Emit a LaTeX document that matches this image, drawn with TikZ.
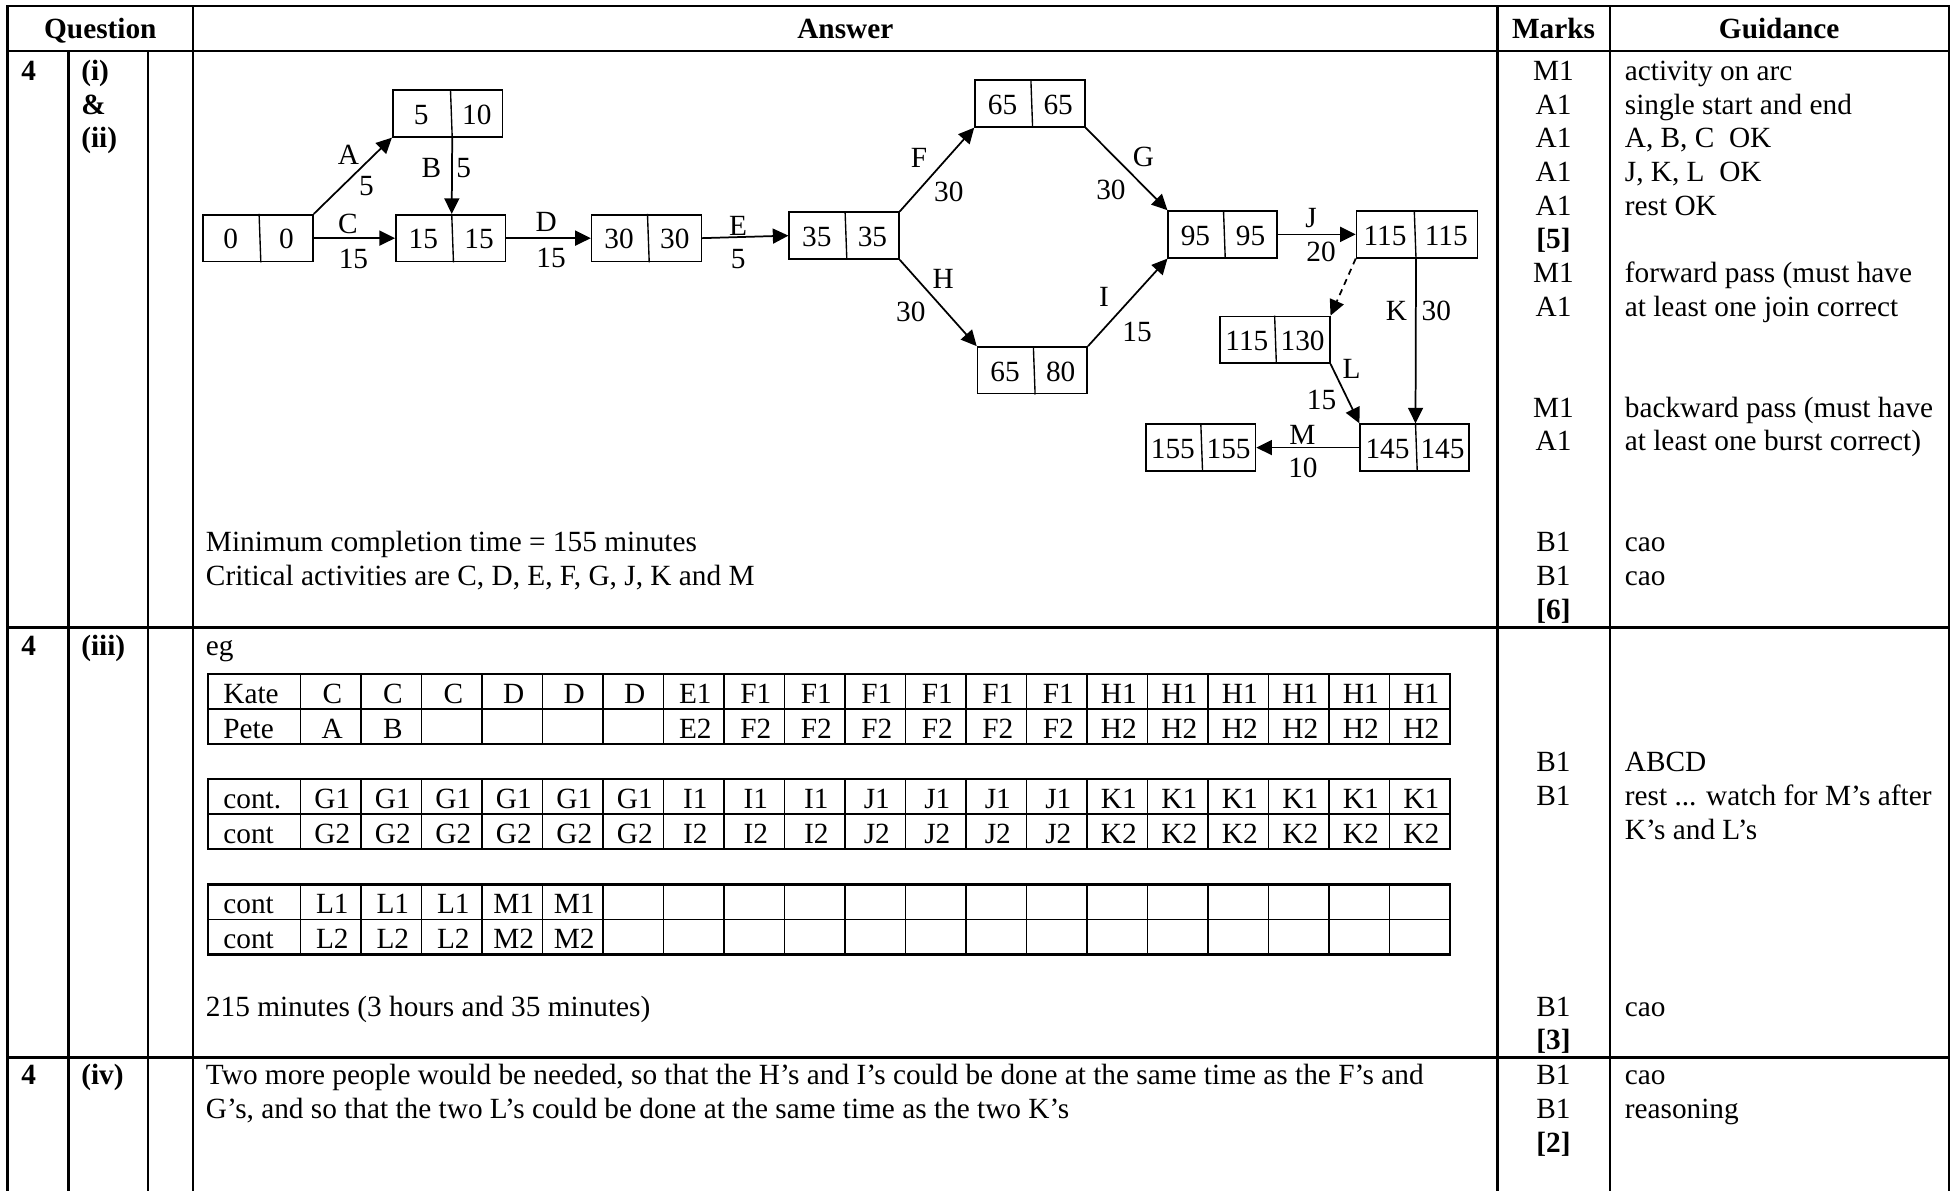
\documentclass[tikz,border=0pt]{standalone}
\usepackage{fontspec}
\setmainfont{Liberation Serif}
\usetikzlibrary{arrows.meta,calc}
\newcommand{\myfs}{\fontsize{23.5}{27}\selectfont}
\newcommand{\evt}[7]{%
  \node[evbox, minimum width=#4pt] (#1) at (#2,#3) {};
  \coordinate (#1-dt) at ($(#1.north)+(#7-0.7,0)$);
  \coordinate (#1-db) at ($(#1.south)+(#7+0.7,0)$);
  \draw[evdiv] (#1-dt) -- (#1-db);
  \node[numtxt] (#1-l) at ($(#1.west)!0.5!(#1-dt |- #1.center)$) {#5};
  \node[numtxt] (#1-r) at ($(#1-dt |- #1.center)!0.5!(#1.east)$) {#6};
}
\begin{document}
\begin{tikzpicture}[x=1pt,y=-1pt,
  every node/.style={inner sep=0pt, font=\myfs},
  tline/.style={line width=1.8pt},
  sepline/.style={line width=2.3pt},
  evbox/.style={draw, rectangle, line width=1.3pt, minimum height=37.5pt},
  evdiv/.style={line width=1.1pt},
  arr/.style={line width=1.4pt, -{Triangle[length=12.5pt,width=12pt]}},
  dasharr/.style={arr, dash pattern=on 5pt off 4pt},
  numtxt/.style={anchor=center, yshift=-1pt},
  lbl/.style={anchor=center},
  txt/.style={anchor=base west},
  btxt/.style={anchor=base west, font=\myfs\bfseries},
  ctxt/.style={anchor=base},
  bctxt/.style={anchor=base, font=\myfs\bfseries},
  tblout/.style={line width=1.9pt},
  tblin/.style={line width=1.3pt}]
\useasboundingbox (0,0) rectangle (1568,955);

% ---------- table frame ----------
\draw[tline] (6,955) -- (6,5) -- (1563,5) -- (1563,955);
\draw[tline] (6,41) -- (1563,41);
\draw[sepline] (6,503) -- (1563,503);
\draw[sepline] (6,848) -- (1563,848);
\foreach \x in {155,1201,1291} \draw[tline] (\x,5) -- (\x,955);
\foreach \x in {55,119} \draw[tline] (\x,41) -- (\x,955);

% ---------- headers ----------
\node[bctxt] (hq) at (80.5,31) {Question};
\node[bctxt] (ha) at (678,31) {Answer};
\node[bctxt] (hm) at (1246,31) {Marks};
\node[bctxt] (hg) at (1427,31) {Guidance};

% ---------- question column ----------
\node[btxt] (q1) at (17,64.5) {4};
\node[btxt] (q1a) at (65,64.5) {(i)};
\node[btxt] (q1b) at (65,91.5) {\&};
\node[btxt] (q1c) at (65,118.5) {(ii)};
\node[btxt] (q2) at (17,526) {4};
\node[btxt] (q2a) at (65,526) {(iii)};
\node[btxt] (q3) at (17,870) {4};
\node[btxt] (q3a) at (65,870) {(iv)};

% ---------- marks column ----------
\foreach \y/\t [count=\i] in {64.5/M1,91.5/A1,118.5/A1,145.5/A1,172.5/A1,226.5/M1,253.5/A1,334.5/M1,361.5/A1,442.5/B1,469.5/B1,619/B1,646/B1,815/B1,870/B1,897/B1}
  \node[ctxt] (mk\i) at (1246,\y) {\t};
\foreach \y/\t [count=\i] in {199.5/[5],496.5/[6],842/[3],924/[2]}
  \node[bctxt] (mb\i) at (1246,\y) {\t};

% ---------- guidance column ----------
\foreach \y/\t [count=\i] in {64.5/activity on arc,91.5/single start and end,118.5/{A, B, C~~OK},145.5/{J, K, L~~OK},172.5/rest OK,226.5/forward pass (must have,253.5/at least one join correct,334.5/backward pass (must have,361.5/at least one burst correct),442.5/cao,469.5/cao,619/ABCD,673/K’s and L’s,815/cao,870/cao,897/reasoning}
  \node[txt] (gd\i) at (1303,\y) {\t};
\node[txt] (gdrest) at (1303,646) {rest ... watch for M’s after};

% ---------- answer texts ----------
\node[txt] (a1) at (165,442.5) {Minimum completion time = 155 minutes};
\node[txt] (a2) at (165,469.5) {Critical activities are C, D, E, F, G, J, K and M};
\node[txt] (a3) at (165,526) {eg};
\node[txt] (a4) at (165,815) {215 minutes (3 hours and 35 minutes)};
\node[txt] (a5) at (165,870) {Two more people would be needed, so that the H’s and I’s could be done at the same time as the F’s and};
\node[txt] (a6) at (165,897) {G’s, and so that the two L’s could be done at the same time as the two K’s};

% ---------- network ----------
\evt{n0}{207}{191}{88}{0}{0}{1.5}
\evt{n1}{359}{91}{88}{5}{10}{3}
\evt{n2}{361.5}{191}{88}{15}{15}{1.5}
\evt{n3}{518.5}{191}{88}{30}{30}{1.5}
\evt{n4}{677}{189}{88}{35}{35}{1.5}
\evt{n5}{826}{83}{88}{65}{65}{1.5}
\evt{n6}{828}{297}{88}{65}{80}{1.5}
\evt{n7}{980.5}{188}{87}{95}{95}{1.5}
\evt{n8}{1136.5}{188}{97}{115}{115}{-1.5}
\evt{n9}{1022.5}{272.5}{88}{115}{130}{0.5}
\evt{n10}{1134.5}{359}{87}{145}{145}{1.5}
\evt{n11}{963}{359}{88}{155}{155}{0.8}

\draw[arr] (n0.north east) -- (n1.south west);
\draw[arr] (n1-db) -- (n2-dt);
\draw[arr] (n0.east) -- (n2.west);
\draw[arr] (n2.east) -- (n3.west);
\draw[arr] (n3.east) -- (n4.west);
\draw[arr] (n4.north east) -- (n5.south west);
\draw[arr] (n5.south east) -- (n7.north west);
\draw[arr] (n4.south east) -- (n6.north west);
\draw[arr] (n6.north east) -- (n7.south west);
\draw[arr] (n7.east) -- (n8.west);
\draw[dasharr] (n8.south west) -- (n9.north east);
\draw[arr] (n8-db) -- (n10-dt);
\draw[arr] (n9.south east) -- (n10.north west);
\draw[arr] (n10.west) -- (n11.east);

\node[lbl] (lA) at (279.5,124) {A};
\node[lbl] (lA2) at (294,149.5) {5};
\node[lbl] (lB) at (346,134.5) {B};
\node[lbl] (lB2) at (372,134.5) {5};
\node[lbl] (lC) at (279,179.5) {C};
\node[lbl] (lC2) at (283.5,207.5) {15};
\node[lbl] (lD) at (438,178) {D};
\node[lbl] (lD2) at (442,207) {15};
\node[lbl] (lE) at (592,181) {E};
\node[lbl] (lE2) at (592,207.5) {5};
\node[lbl] (lF) at (737,127) {F};
\node[lbl] (lF2) at (761,154) {30};
\node[lbl] (lG) at (917,126) {G};
\node[lbl] (lG2) at (891,152) {30};
\node[lbl] (lH) at (756.5,224) {H};
\node[lbl] (lH2) at (730.5,250.5) {30};
\node[lbl] (lI) at (885.5,238.5) {I};
\node[lbl] (lI2) at (912,266.5) {15};
\node[lbl] (lJ) at (1051.5,175) {J};
\node[lbl] (lJ2) at (1059.5,202) {20};
\node[lbl] (lK) at (1120,249) {K};
\node[lbl] (lK2) at (1152,249) {30};
\node[lbl] (lL) at (1084,296) {L};
\node[lbl] (lL2) at (1060,321) {15};
\node[lbl] (lM) at (1044.5,348.5) {M};
\node[lbl] (lM2) at (1045,375) {10};

% ---------- schedule tables ----------
\foreach \tp/\md/\bt in {540.5/568.5/596.5, 625/653/681, 709.5/737.5/765.5}{
  \draw[tblin] (167,\md) -- (1163,\md);
  \foreach \k in {0,...,18} \draw[tblin] (241+\k*48.526,\tp) -- (241+\k*48.526,\bt);
  \draw[tblout] (167,\tp) rectangle (1163,\bt);
}
% table 1
\node[txt] (t1a) at (179,564) {Kate};
\node[txt] (t1b) at (179,592) {Pete};
\foreach \t [count=\i from 0] in {C,C,C,D,D,D,E1,F1,F1,F1,F1,F1,F1,H1,H1,H1,H1,H1,H1}
  \node[ctxt] (t1r\i) at (266.5+\i*48.526,564) {\t};
\foreach \i/\t in {0/A,1/B,6/E2,7/F2,8/F2,9/F2,10/F2,11/F2,12/F2,13/H2,14/H2,15/H2,16/H2,17/H2,18/H2}
  \node[ctxt] (t1s\i) at (266.5+\i*48.526,592) {\t};
% table 2
\node[txt] (t2a) at (179,648.5) {cont.};
\node[txt] (t2b) at (179,676.5) {cont};
\foreach \t [count=\i from 0] in {G1,G1,G1,G1,G1,G1,I1,I1,I1,J1,J1,J1,J1,K1,K1,K1,K1,K1,K1}
  \node[ctxt] (t2r\i) at (266.5+\i*48.526,648.5) {\t};
\foreach \t [count=\i from 0] in {G2,G2,G2,G2,G2,G2,I2,I2,I2,J2,J2,J2,J2,K2,K2,K2,K2,K2,K2}
  \node[ctxt] (t2s\i) at (266.5+\i*48.526,676.5) {\t};
% table 3
\node[txt] (t3a) at (179,733) {cont};
\node[txt] (t3b) at (179,761) {cont};
\foreach \t [count=\i from 0] in {L1,L1,L1,M1,M1}
  \node[ctxt] (t3r\i) at (266.5+\i*48.526,733) {\t};
\foreach \t [count=\i from 0] in {L2,L2,L2,M2,M2}
  \node[ctxt] (t3s\i) at (266.5+\i*48.526,761) {\t};
\end{tikzpicture}
\end{document}
